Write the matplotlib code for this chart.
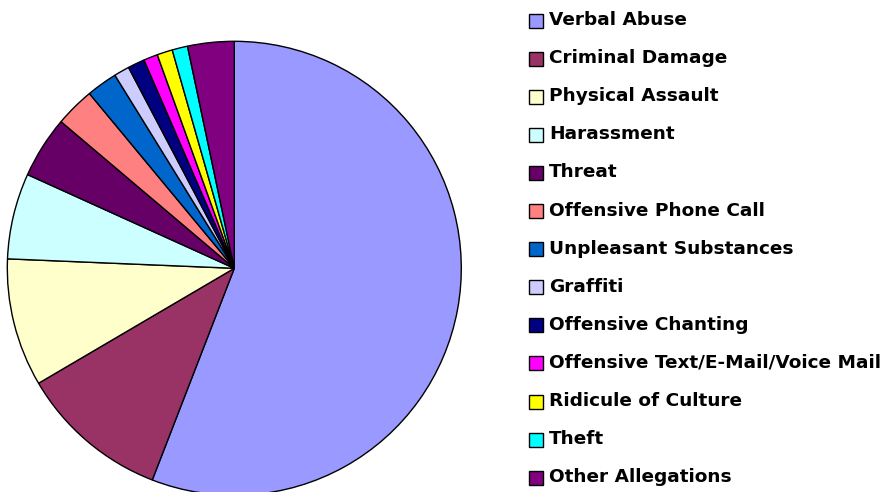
import matplotlib
matplotlib.use("Agg")
import matplotlib.pyplot as plt
from matplotlib.patches import Rectangle

categories = ["Verbal Abuse", "Criminal Damage", "Physical Assault", "Harassment",
              "Threat", "Offensive Phone Call", "Unpleasant Substances", "Graffiti",
              "Offensive Chanting", "Offensive Text/E-Mail/Voice Mail",
              "Ridicule of Culture", "Theft", "Other Allegations"]
values = [55.8, 10.65, 9.1, 6.1, 4.4, 2.8, 2.2, 1.1, 1.2, 1.0, 1.1, 1.1, 3.3]
colors = ["#9999FF", "#993366", "#FFFFCC", "#CCFFFF", "#660066", "#FF8080",
          "#0066CC", "#CCCCFF", "#000080", "#FF00FF", "#FFFF00", "#00FFFF", "#800080"]

W, H = 883, 492
fig = plt.figure(figsize=(W / 100, H / 100), dpi=100)
ax = fig.add_axes([0, 0, 1, 1])

ax.pie(values, colors=colors, startangle=90, counterclock=False,
       center=(234.3, H - 268.3), radius=227, frame=True,
       wedgeprops=dict(edgecolor="black", linewidth=1.0))
ax.set_xlim(0, W)
ax.set_ylim(0, H)
ax.set_aspect("equal")
ax.axis("off")

for i, (lab, col) in enumerate(zip(categories, colors)):
    yc = H - (20 + i * 38.1)
    ax.add_patch(Rectangle((528.5, yc - 7.5), 14, 14, facecolor=col,
                           edgecolor="black", linewidth=1.0))
    ax.text(549, yc, lab, fontsize=13.3, fontweight="bold", family="DejaVu Sans",
            va="center", ha="left")

fig.savefig("out.png", dpi=100)
